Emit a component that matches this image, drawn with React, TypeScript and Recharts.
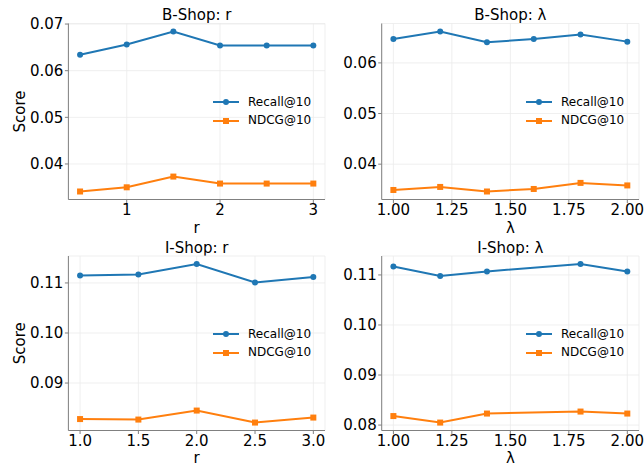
import React from "react";
import { LineChart, Line, XAxis, YAxis, CartesianGrid, Legend } from "recharts";

const FONT = "'DejaVu Sans', sans-serif";
const BLUE = "#1f77b4";
const ORANGE = "#ff7f0e";
const SPINE = "#808080";
const GRID = "#ebebeb";

// B-Shop, varying r
const bShopR = [0.5, 1, 1.5, 2, 2.5, 3];
const bShopRRecall = [0.0634, 0.0656, 0.0684, 0.0654, 0.0654, 0.0654];
const bShopRNdcg = [0.0341, 0.035, 0.0373, 0.0358, 0.0358, 0.0358];

// B-Shop, varying lambda
const bShopLambda = [1.0, 1.2, 1.4, 1.6, 1.8, 2.0];
const bShopLambdaRecall = [0.0647, 0.0662, 0.0641, 0.0647, 0.0656, 0.0642];
const bShopLambdaNdcg = [0.0349, 0.0355, 0.0346, 0.0351, 0.0363, 0.0358];

// I-Shop, varying r
const iShopR = [1.0, 1.5, 2.0, 2.5, 3.0];
const iShopRRecall = [0.1115, 0.1117, 0.1138, 0.1101, 0.1112];
const iShopRNdcg = [0.0828, 0.0827, 0.0845, 0.0821, 0.0831];

// I-Shop, varying lambda
const iShopLambda = [1.0, 1.2, 1.4, 1.8, 2.0];
const iShopLambdaRecall = [0.1117, 0.1098, 0.1107, 0.1122, 0.1107];
const iShopLambdaNdcg = [0.0818, 0.0805, 0.0823, 0.0827, 0.0823];

// tick labels
const bShopRTicks = [1, 2, 3];
const iShopRTicks = [1.0, 1.5, 2.0, 2.5, 3.0];
const lambdaTicks = [1.0, 1.25, 1.5, 1.75, 2.0];
const bShopRYTicks = [0.04, 0.05, 0.06, 0.07];
const bShopLambdaYTicks = [0.04, 0.05, 0.06];
const iShopRYTicks = [0.09, 0.1, 0.11];
const iShopLambdaYTicks = [0.08, 0.09, 0.1, 0.11];

const SERIES_NAMES = ["Recall@10", "NDCG@10"];

// matplotlib-style 5% margins
function padded(values: number[]): [number, number] {
  const lo = Math.min(...values);
  const hi = Math.max(...values);
  const m = (hi - lo) * 0.05;
  return [lo - m, hi + m];
}

const squareDot = (props: any) => (
  <rect
    key={`sq-${props.index}`}
    x={props.cx - 3}
    y={props.cy - 3}
    width={6}
    height={6}
    fill={ORANGE}
  />
);

// rotated y label, baseline 25px right of the axis box's left edge
const YLabel = ({ viewBox, value }: any) => {
  if (!viewBox) return null;
  const bx = viewBox.x + 25;
  const cy = viewBox.y + viewBox.height / 2;
  return (
    <text
      x={bx}
      y={cy}
      transform={`rotate(-90, ${bx}, ${cy})`}
      textAnchor="middle"
      fontSize={15}
      fontFamily={FONT}
      fill="#000"
    >
      {value}
    </text>
  );
};

const renderLegend = () => (
  <div style={{ fontFamily: FONT, fontSize: 12, color: "#000" }}>
    {SERIES_NAMES.map((name, i) => {
      const color = i === 0 ? BLUE : ORANGE;
      return (
        <div
          key={name}
          style={{ display: "flex", alignItems: "center", height: 18.7, lineHeight: "18.7px" }}
        >
          <svg width={26} height={10} style={{ marginRight: 9 }}>
            <line x1={0} y1={5} x2={26} y2={5} stroke={color} strokeWidth={2} />
            {i === 0 ? (
              <circle cx={13} cy={5} r={3} fill={color} />
            ) : (
              <rect x={10} y={2} width={6} height={6} fill={color} />
            )}
          </svg>
          <span>{name}</span>
        </div>
      );
    })}
  </div>
);

type PanelProps = {
  left: number;
  top: number;
  width: number;
  height: number;
  extraBottom: number;
  plotTop: number;
  axisWidth: number;
  axisHeight: number;
  tickMargin: number;
  title: string;
  titleTop: number;
  xLabel: string;
  xLabelOffset: number;
  yLabel?: string;
  xs: number[];
  recall: number[];
  ndcg: number[];
  xTicks: number[];
  yTicks: number[];
  xDigits: number;
  legendLeft: number;
};

function Panel(p: PanelProps) {
  const data = p.xs.map((x, i) => ({ x, recall: p.recall[i], ndcg: p.ndcg[i] }));
  const xDomain = padded(p.xs);
  const yDomain = padded([...p.recall, ...p.ndcg]);
  const tickStyle = { fill: "#000", fontSize: 15, fontFamily: FONT };
  const textStyle = { fill: "#000", fontSize: 15, fontFamily: FONT };
  const plotLeft = p.axisWidth;
  const plotWidth = p.width - p.axisWidth - 5;

  return (
    <div style={{ position: "absolute", left: p.left, top: p.top }}>
      <div
        style={{
          position: "absolute",
          left: plotLeft,
          width: plotWidth,
          top: p.titleTop,
          textAlign: "center",
          fontFamily: FONT,
          fontSize: 15,
          lineHeight: "15px",
          color: "#000",
          whiteSpace: "nowrap",
        }}
      >
        {p.title}
      </div>
      <LineChart
        width={p.width}
        height={p.height + p.extraBottom}
        data={data}
        margin={{ top: p.plotTop, right: 5, bottom: p.extraBottom, left: 0 }}
      >
        <CartesianGrid stroke={GRID} strokeWidth={0.8} />
        <XAxis
          dataKey="x"
          type="number"
          domain={xDomain}
          ticks={p.xTicks}
          allowDataOverflow
          height={p.axisHeight}
          tickFormatter={(v: number) => v.toFixed(p.xDigits)}
          tick={tickStyle}
          tickSize={3.5}
          tickMargin={p.tickMargin}
          tickLine={{ stroke: SPINE }}
          axisLine={{ stroke: SPINE }}
          label={{
            value: p.xLabel,
            position: "insideBottom",
            offset: p.xLabelOffset,
            style: textStyle,
          }}
        />
        <XAxis
          xAxisId="top"
          orientation="top"
          type="number"
          domain={xDomain}
          allowDataOverflow
          height={0}
          tick={false}
          tickLine={false}
          axisLine={{ stroke: SPINE }}
        />
        <YAxis
          type="number"
          domain={yDomain}
          ticks={p.yTicks}
          allowDataOverflow
          width={p.axisWidth}
          tickFormatter={(v: number) => v.toFixed(2)}
          tick={tickStyle}
          tickSize={3.5}
          tickMargin={1.5}
          tickLine={{ stroke: SPINE }}
          axisLine={{ stroke: SPINE }}
          label={p.yLabel ? <YLabel value={p.yLabel} /> : undefined}
        />
        <YAxis
          yAxisId="right"
          orientation="right"
          type="number"
          domain={yDomain}
          allowDataOverflow
          width={0}
          tick={false}
          tickLine={false}
          axisLine={{ stroke: SPINE }}
        />
        <Legend
          layout="vertical"
          align="center"
          verticalAlign="middle"
          content={renderLegend}
          wrapperStyle={{ left: p.legendLeft, top: 92.7, width: "auto", height: "auto" }}
        />
        <Line
          type="linear"
          dataKey="recall"
          name={SERIES_NAMES[0]}
          stroke={BLUE}
          strokeWidth={2}
          dot={{ r: 3, fill: BLUE, stroke: BLUE, strokeWidth: 0 }}
          activeDot={false}
          isAnimationActive={false}
        />
        <Line
          type="linear"
          dataKey="ndcg"
          name={SERIES_NAMES[1]}
          stroke={ORANGE}
          strokeWidth={2}
          dot={squareDot}
          activeDot={false}
          isAnimationActive={false}
        />
      </LineChart>
    </div>
  );
}

export default function App() {
  return (
    <div
      style={{
        position: "absolute",
        left: 0,
        top: 0,
        width: 644,
        height: 467,
        background: "#fff",
        fontFamily: FONT,
        overflow: "hidden",
      }}
    >
      <Panel
        left={0}
        top={0}
        width={330}
        height={232}
        extraBottom={5}
        plotTop={23.5}
        axisWidth={68.4}
        axisHeight={32.5}
        tickMargin={1.5}
        title="B-Shop: r"
        titleTop={8}
        xLabel="r"
        xLabelOffset={-0.5}
        yLabel="Score"
        xs={bShopR}
        recall={bShopRRecall}
        ndcg={bShopRNdcg}
        xTicks={bShopRTicks}
        yTicks={bShopRYTicks}
        xDigits={0}
        legendLeft={213}
      />
      <Panel
        left={330}
        top={0}
        width={314}
        height={232}
        extraBottom={5}
        plotTop={23.5}
        axisWidth={51.7}
        axisHeight={32.5}
        tickMargin={1.5}
        title="B-Shop: λ"
        titleTop={8}
        xLabel="λ"
        xLabelOffset={-0.5}
        xs={bShopLambda}
        recall={bShopLambdaRecall}
        ndcg={bShopLambdaNdcg}
        xTicks={lambdaTicks}
        yTicks={bShopLambdaYTicks}
        xDigits={2}
        legendLeft={196}
      />
      <Panel
        left={0}
        top={232}
        width={330}
        height={235}
        extraBottom={0}
        plotTop={24}
        axisWidth={68.4}
        axisHeight={36.5}
        tickMargin={1}
        title="I-Shop: r"
        titleTop={9.3}
        xLabel="r"
        xLabelOffset={3.8}
        yLabel="Score"
        xs={iShopR}
        recall={iShopRRecall}
        ndcg={iShopRNdcg}
        xTicks={iShopRTicks}
        yTicks={iShopRYTicks}
        xDigits={1}
        legendLeft={213}
      />
      <Panel
        left={330}
        top={232}
        width={314}
        height={235}
        extraBottom={0}
        plotTop={24}
        axisWidth={51.7}
        axisHeight={36.5}
        tickMargin={1}
        title="I-Shop: λ"
        titleTop={9.3}
        xLabel="λ"
        xLabelOffset={3.8}
        xs={iShopLambda}
        recall={iShopLambdaRecall}
        ndcg={iShopLambdaNdcg}
        xTicks={lambdaTicks}
        yTicks={iShopLambdaYTicks}
        xDigits={2}
        legendLeft={196}
      />
    </div>
  );
}
